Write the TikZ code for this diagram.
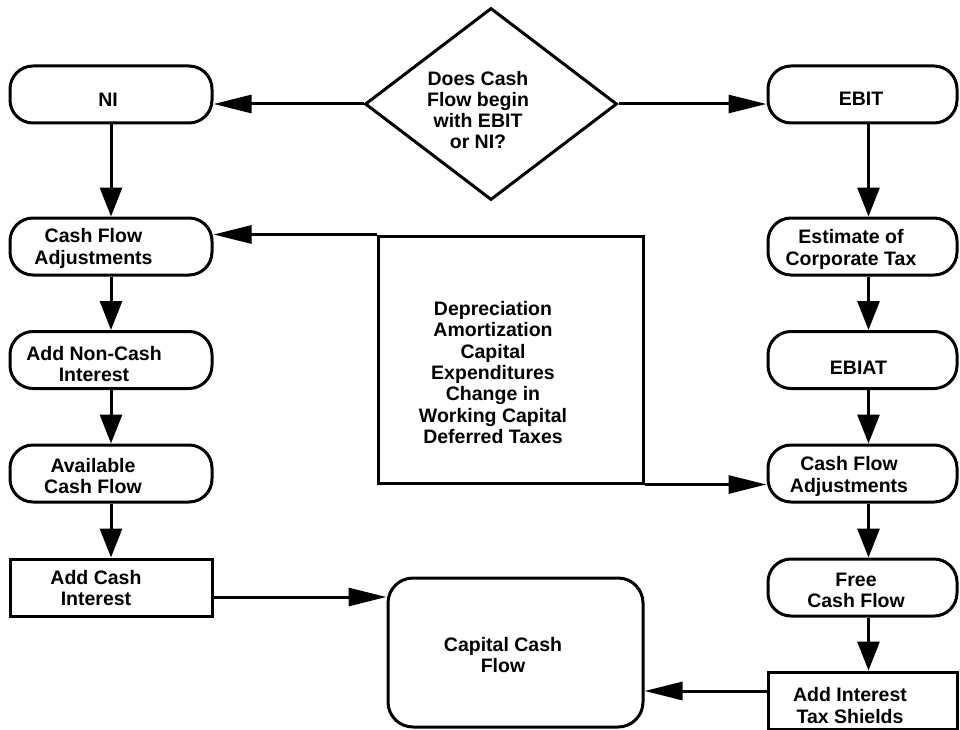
\documentclass[tikz,border=0pt]{standalone}
\usepackage{fontspec}
\setmainfont{Liberation Sans}
\usetikzlibrary{arrows.meta,shapes.geometric,calc}
\begin{document}
\begin{tikzpicture}[x=1pt,y=-1pt,
  lw/.style={line width=3pt},
  pillL/.style={draw, lw, rounded corners=23pt, minimum width=202pt, minimum height=57pt, inner sep=0pt},
  pillR/.style={pillL, minimum width=189pt},
  rectL/.style={draw, lw, minimum width=202pt, minimum height=57pt, inner sep=0pt},
  rectR/.style={rectL, minimum width=189pt},
  txt/.style={font=\bfseries\fontsize{19.5}{21.3}\selectfont, align=center, inner sep=0pt},
  harr/.style={lw, -{Triangle[length=38pt,width=18pt]}},
  varr/.style={lw, -{Triangle[length=29pt,width=22pt]}},
]
\useasboundingbox (0,0) rectangle (960,730);

% decision
\node[draw, lw, diamond, minimum width=252pt, minimum height=192pt, inner sep=0pt] (dec) at (491,104) {};
\node[txt] (decT) at (478,110) {Does Cash\\Flow begin\\with EBIT\\or NI?};

% left column
\node[pillL] (ni) at (111,94.5) {};
\node[txt] (niT) at (108,99.5) {NI};
\node[pillL] (cfaL) at (111,246.5) {};
\node[txt] (cfaLT) at (93.5,248.5) {Cash Flow\\Adjustments};
\node[pillL] (nonc) at (111,360) {};
\node[txt] (noncT) at (94,364) {Add Non-Cash\\Interest};
\node[pillL] (avail) at (111,473.5) {};
\node[txt] (availT) at (93,476) {Available\\Cash Flow};
\node[rectL] (addci) at (111,587.5) {};
\node[txt] (addciT) at (96,588) {Add Cash\\Interest};

% right column
\node[pillR] (ebit) at (862.5,94.5) {};
\node[txt] (ebitT) at (861,98.5) {EBIT};
\node[pillR] (tax) at (862.5,246.5) {};
\node[txt] (taxT) at (851,249.5) {Estimate of\\Corporate Tax};
\node[pillR] (ebiat) at (862.5,360) {};
\node[txt] (ebiatT) at (858.5,368) {EBIAT};
\node[pillR] (cfaR) at (862.5,473.5) {};
\node[txt] (cfaRT) at (849,476.5) {Cash Flow\\Adjustments};
\node[pillR] (fcf) at (862.5,587.5) {};
\node[txt] (fcfT) at (856,590.5) {Free\\Cash Flow};
\node[rectR] (ats) at (862.5,700.5) {};
\node[txt] (atsT) at (850,705.5) {Add Interest\\Tax Shields};

% middle adjustments box
\node[draw, lw, minimum width=265pt, minimum height=247pt, inner sep=0pt] (mid) at (510.5,359.5) {};
\node[txt] (midT) at (493,372.5) {Depreciation\\Amortization\\Capital\\Expenditures\\Change in\\Working Capital\\Deferred Taxes};

% capital cash flow
\node[draw, lw, rounded corners=25pt, minimum width=255pt, minimum height=149pt, inner sep=0pt] (cap) at (515.5,652.5) {};
\node[txt] (capT) at (503,655) {Capital Cash\\Flow};

% connectors
\draw[harr] (dec.west) -- (dec.west -| ni.east);
\draw[harr] (dec.east) -- (dec.east -| ebit.west);

\draw[varr] (ni) -- (cfaL);
\draw[varr] (cfaL) -- (nonc);
\draw[varr] (nonc) -- (avail);
\draw[varr] (avail) -- (addci);

\draw[varr] ([xshift=6pt]ebit.south) -- ([xshift=6pt]tax.north);
\draw[varr] ([xshift=6pt]tax.south) -- ([xshift=6pt]ebiat.north);
\draw[varr] ([xshift=6pt]ebiat.south) -- ([xshift=6pt]cfaR.north);
\draw[varr] ([xshift=6pt]cfaR.south) -- ([xshift=6pt]fcf.north);
\draw[varr] ([xshift=6pt]fcf.south) -- ([xshift=6pt]ats.north);

\draw[harr] (mid.north west) -- (mid.north west -| cfaL.east);
\draw[harr] (mid.south east) -- (mid.south east -| cfaR.west);

\draw[harr] ([yshift=-9.5pt]addci.east) -- ([yshift=-9.5pt]addci.east -| cap.west);
\draw[harr] ([yshift=9.5pt]ats.west) -- ([yshift=9.5pt]ats.west -| cap.east);
\end{tikzpicture}
\end{document}
